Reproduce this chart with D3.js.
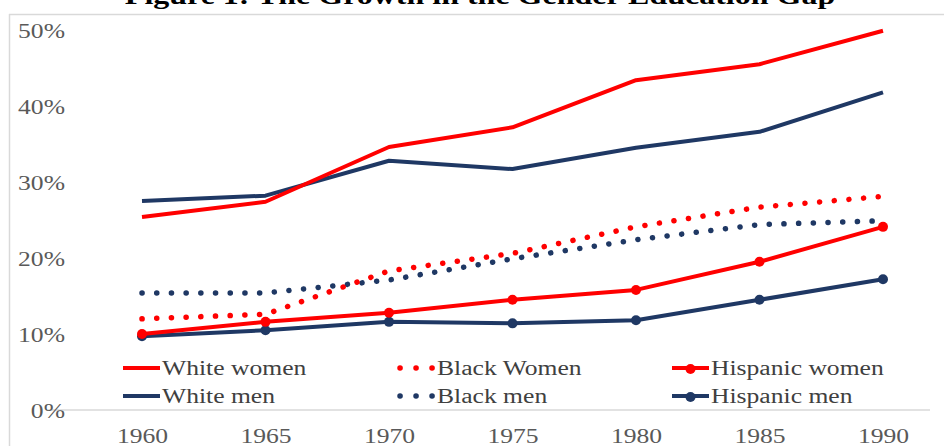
<!DOCTYPE html>
<html>
<head>
<meta charset="utf-8">
<script src="https://cdn.jsdelivr.net/npm/d3@7"></script>
<style>
  html, body { margin: 0; padding: 0; background: #fff; }
  svg { display: block; }
</style>
</head>
<body>
<div id="chart"></div>
<script>
// data (percent)
const years = [1960, 1965, 1970, 1975, 1980, 1985, 1990];
const whiteWomen = [25.4, 27.4, 34.6, 37.2, 43.4, 45.5, 49.9];
const whiteMen = [27.5, 28.2, 32.8, 31.7, 34.5, 36.6, 41.8];
const blackWomen = [12.0, 12.6, 18.3, 20.6, 24.1, 26.7, 28.1];
const blackMen = [15.4, 15.4, 17.1, 19.9, 22.4, 24.4, 24.9];
const hispanicWomen = [10.0, 11.6, 12.8, 14.5, 15.8, 19.5, 24.1];
const hispanicMen = [9.7, 10.5, 11.6, 11.4, 11.8, 14.5, 17.2];
const yTicks = [0, 10, 20, 30, 40, 50];
const titleText = "Figure 1: The Growth in the Gender Education Gap";

const RED = "#ff0000";
const NAVY = "#1f3864";

const series = [
    { name: "White women", values: whiteWomen, color: RED, style: "solid" },
    { name: "Black Women", values: blackWomen, color: RED, style: "dot" },
    { name: "Hispanic women", values: hispanicWomen, color: RED, style: "marker" },
    { name: "White men", values: whiteMen, color: NAVY, style: "solid" },
    { name: "Black men", values: blackMen, color: NAVY, style: "dot" },
    { name: "Hispanic men", values: hispanicMen, color: NAVY, style: "marker" }
];

const width = 944, height = 446;
const stretch = 1.28; // source picture is squeezed wide, text looks stretched
const font = "'Liberation Serif', 'Times New Roman', serif";

const svg = d3.select("#chart").append("svg")
    .attr("width", width).attr("height", height);

svg.append("rect").attr("width", width).attr("height", height).attr("fill", "#fff");

// chart frame (only top/left visible in the crop)
svg.append("line").attr("x1", 9).attr("x2", width).attr("y1", 14.5).attr("y2", 14.5)
    .attr("stroke", "#d9d9d9").attr("stroke-width", 1.5);
svg.append("line").attr("x1", 9.5).attr("x2", 9.5).attr("y1", 14).attr("y2", height)
    .attr("stroke", "#d9d9d9").attr("stroke-width", 1.5);

// title, cut off at the top edge like in the source
svg.append("text")
    .attr("transform", `translate(480,4) scale(${stretch},1)`)
    .attr("text-anchor", "middle")
    .attr("font-family", font).attr("font-weight", "bold").attr("font-size", 25)
    .attr("fill", "#000")
    .text(titleText);

const x = d3.scalePoint().domain(years).range([142, 883]);
const y = d3.scaleLinear().domain([0, 50]).range([410, 30]);

// baseline at 0%
svg.append("line").attr("x1", 48).attr("x2", 930).attr("y1", y(0)).attr("y2", y(0))
    .attr("stroke", "#d9d9d9").attr("stroke-width", 1.5);

// y axis
const yAxis = svg.append("g").attr("transform", "translate(65,0)")
    .call(d3.axisLeft(y).tickValues(yTicks).tickFormat(d => d + "%").tickSize(0).tickPadding(0));
yAxis.select(".domain").remove();
yAxis.selectAll(".tick text")
    .attr("x", null).attr("dy", null).attr("y", 7)
    .attr("text-anchor", "end")
    .attr("transform", `scale(${stretch},1)`)
    .attr("font-family", font).attr("font-size", 20).attr("fill", "#595959");

// x axis
const xAxis = svg.append("g").attr("transform", "translate(0,443)")
    .call(d3.axisBottom(x).tickSize(0).tickPadding(0));
xAxis.select(".domain").remove();
xAxis.selectAll(".tick text")
    .attr("y", 0).attr("dy", null)
    .attr("transform", `scale(${stretch},1)`)
    .attr("font-family", font).attr("font-size", 20).attr("fill", "#595959");

const line = d3.line().x((d, i) => x(years[i])).y(d => y(d));

function styleLine(sel, s) {
    sel.attr("fill", "none").attr("stroke", s.color);
    if (s.style === "dot") {
        sel.attr("stroke-width", 5.5).attr("stroke-linecap", "round")
            .attr("stroke-dasharray", "0.1 14.6");
    } else {
        sel.attr("stroke-width", 4).attr("stroke-linejoin", "round");
    }
    return sel;
}

// draw order: men first so women sit on top where they cross
const drawOrder = [3, 4, 5, 0, 1, 2];
drawOrder.forEach(k => {
    const s = series[k];
    const g = svg.append("g");
    styleLine(g.append("path").attr("d", line(s.values)), s);
    if (s.style === "marker") {
        g.selectAll("circle").data(s.values).join("circle")
            .attr("cx", (d, i) => x(years[i]))
            .attr("cy", d => y(d))
            .attr("r", 5)
            .attr("fill", s.color);
    }
});

// legend
const legendCols = [123, 398, 672];
const legendRows = [368, 396];
series.forEach((s, k) => {
    const lx = legendCols[k % 3], ly = legendRows[Math.floor(k / 3)];
    const g = svg.append("g").attr("transform", `translate(${lx},${ly})`);
    const sampleW = 37;
    const p = g.append("line")
        .attr("x1", s.style === "dot" ? 2 : 0)
        .attr("x2", s.style === "dot" ? 34.2 : sampleW)
        .attr("y1", 0).attr("y2", 0);
    styleLine(p, s);
    if (s.style === "dot") p.attr("stroke-dasharray", "0.1 15.9");
    if (s.style === "marker") {
        g.append("circle").attr("cx", sampleW / 2).attr("cy", 1).attr("r", 5).attr("fill", s.color);
    }
    g.append("text")
        .attr("transform", `translate(${sampleW + 2},7) scale(${stretch},1)`)
        .attr("font-family", font).attr("font-size", 20).attr("fill", "#404040")
        .text(s.name);
});
</script>
</body>
</html>
